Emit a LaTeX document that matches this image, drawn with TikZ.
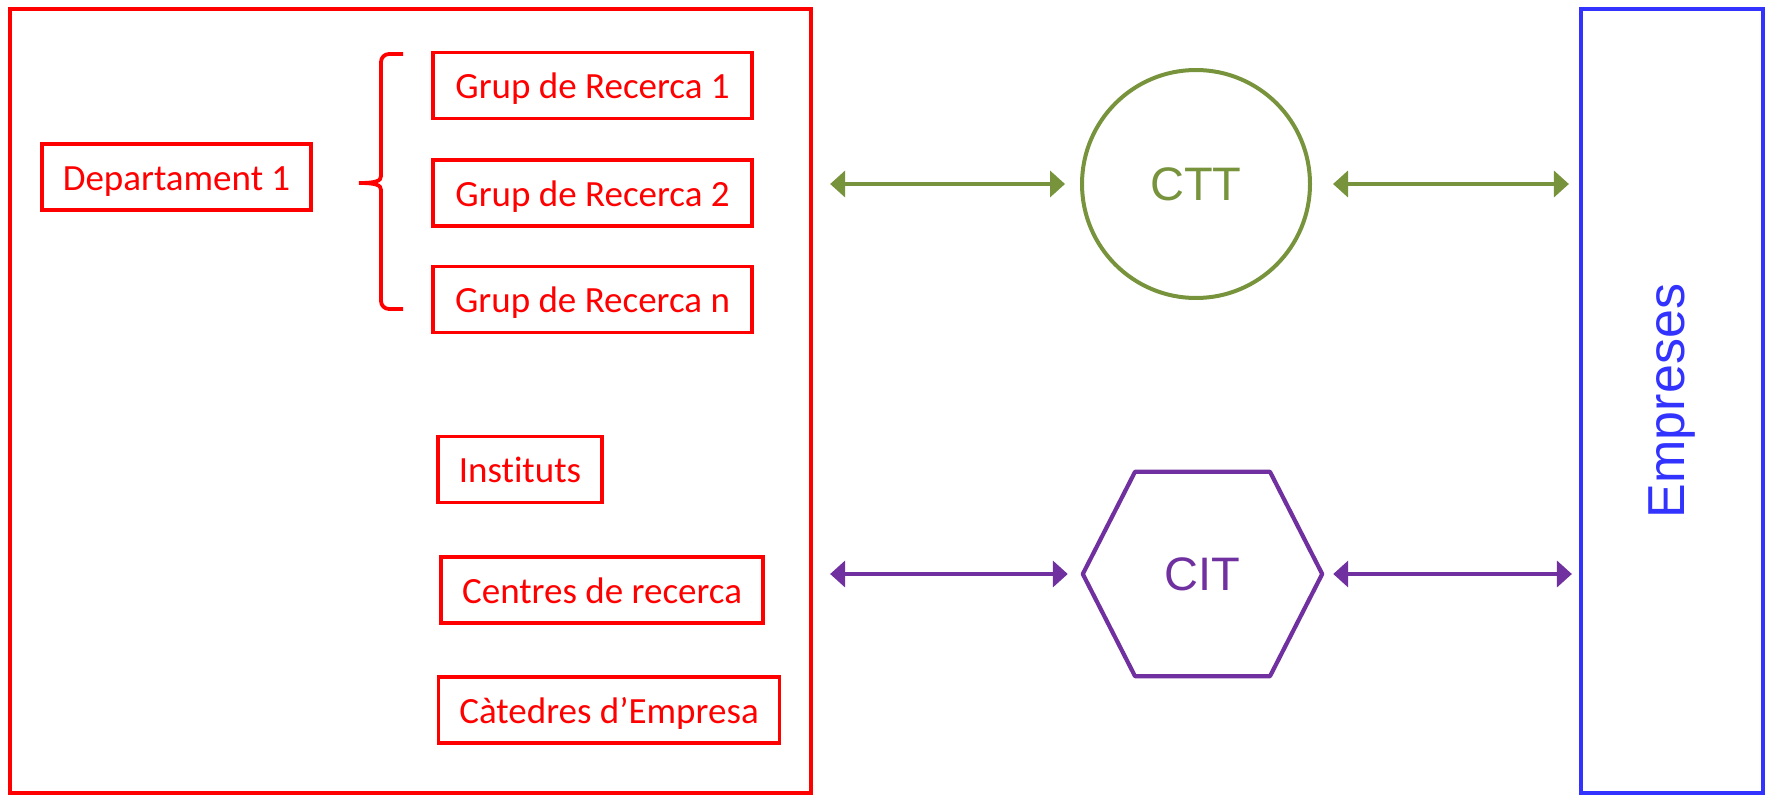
\documentclass[tikz,border=0pt]{standalone}
\usepackage{fontspec}
\newfontfamily\carlito[Ligatures=NoCommon]{Carlito}
\newfontfamily\arial{Liberation Sans}
\usetikzlibrary{positioning,arrows.meta}
\definecolor{verd}{RGB}{119,147,60}
\definecolor{lila}{RGB}{112,48,160}
\definecolor{blau}{RGB}{51,51,255}
\tikzstyle{caixa} = [draw=red, line width=3.6pt, text=red, font=\carlito\fontsize{37}{44}\selectfont, text height=26pt, text depth=0pt, inner xsep=21pt, minimum height=66pt]
\tikzstyle{fletxa} = [line width=4pt, {Triangle[length=15pt,width=26pt]}-{Triangle[length=15pt,width=26pt]}]
\tikzstyle{sigla} = [font=\arial\fontsize{47}{56}\selectfont, text depth=0pt, inner sep=0pt]

\begin{document}
\begin{tikzpicture}[x=1pt,y=1pt]
			\useasboundingbox (0,0) rectangle (1769,-795);
			\node [draw=red, line width=4.2pt, minimum width=801pt, minimum height=784pt, inner sep=0pt] (uni) at (410.5,-401) {};
			\node [draw=blau, line width=4.2pt, text=blau, font=\arial\fontsize{52}{60}\selectfont, rotate=90, minimum width=784pt, minimum height=182pt, inner sep=0pt] (emp) at (1672,-401) {Empreses};
			\node [caixa] (dep) at (176.5,-177) {Departament 1};
			\node [caixa, minimum width=319pt] (gr1) at (592.5,-85.5) {Grup de Recerca 1};
			\node [caixa, minimum width=319pt] (gr2) at (592.5,-193) {Grup de Recerca 2};
			\node [caixa, minimum width=319pt] (grn) at (592.5,-299.5) {Grup de Recerca n};
			\node [caixa] (inst) at (520,-469.5) {Instituts};
			\node [caixa] (cent) at (602,-590) {Centres de recerca};
			\node [caixa] (cat) at (609,-710) {Càtedres d’Empresa};
			\draw [red, line width=3.8pt] (403,-54) -- (389,-54) to[out=180,in=90] (381,-62) -- (381,-176)
				.. controls (381,-181) and (376,-183) .. (359,-183)
				.. controls (376,-183) and (381,-185) .. (381,-190) -- (381,-301) to[out=-90,in=180] (389,-309) -- (403,-309);
			\node [sigla, circle, draw=verd, line width=4pt, text=verd, minimum size=228pt] (ctt) at (1196,-184) {CTT};
			\node [sigla, text=lila, minimum width=239pt, minimum height=204pt] (cit) at (1202.5,-574) {CIT};
			\draw [lila, line width=4.2pt, line join=round] (cit.west) -- ([xshift=-67.5pt]cit.north) -- ([xshift=67.5pt]cit.north)
				-- (cit.east) -- ([xshift=67.5pt]cit.south) -- ([xshift=-67.5pt]cit.south) -- cycle;
			\draw [fletxa, verd, shorten <=17pt, shorten >=15pt] (uni.east |- ctt) -- (ctt.west);
			\draw [fletxa, verd, shorten <=21pt, shorten >=10pt] (ctt.east) -- (emp.north |- ctt);
			\draw [fletxa, lila, shorten <=17pt, shorten >=15pt] (uni.east |- cit) -- (cit.west);
			\draw [fletxa, lila, shorten <=11pt, shorten >=7pt] (cit.east) -- (emp.north |- cit);
		\end{tikzpicture}
\end{document}
